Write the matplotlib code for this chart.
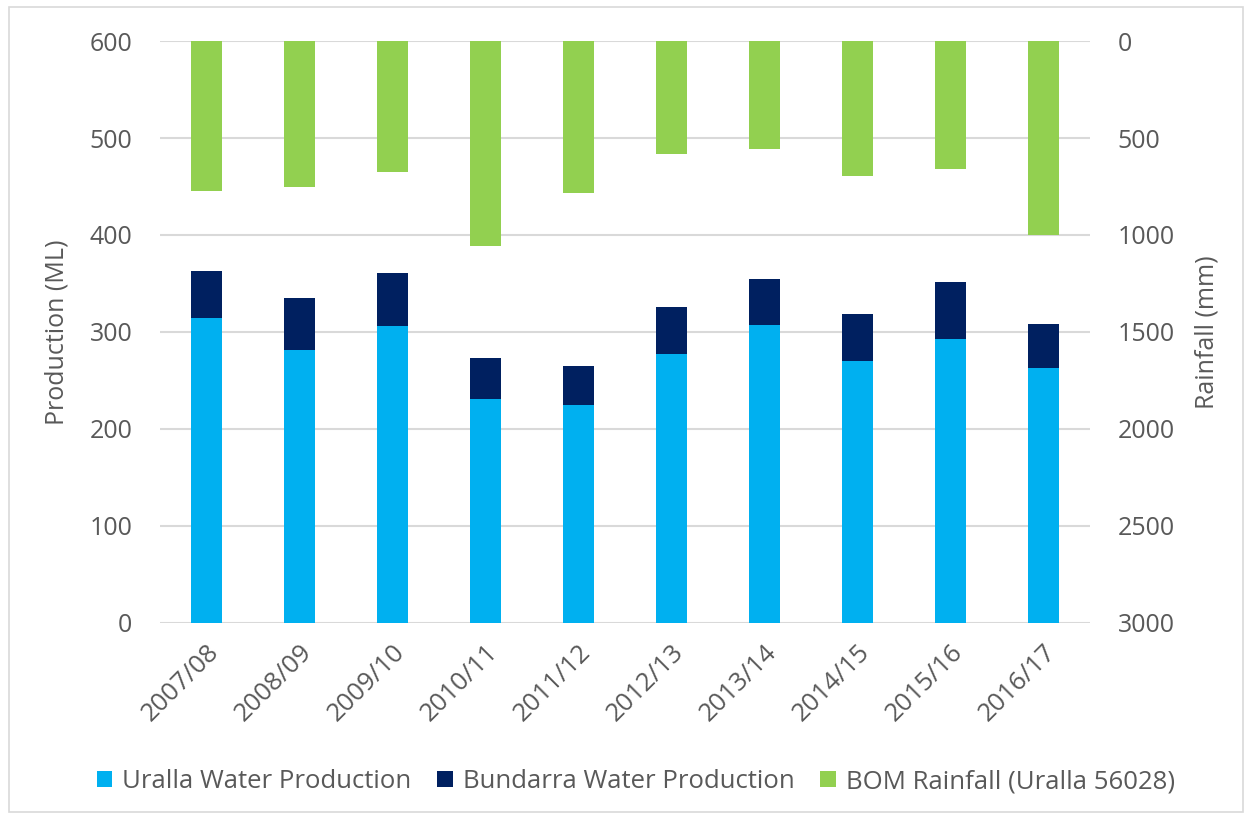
import matplotlib
matplotlib.use("Agg")
import numpy as np
from matplotlib import pyplot as plt
from matplotlib.patches import Rectangle

# data
years = ['2007/08', '2008/09', '2009/10', '2010/11', '2011/12',
         '2012/13', '2013/14', '2014/15', '2015/16', '2016/17']
uralla = [314.5, 281.4, 305.9, 230.5, 224.6, 277.3, 307.2, 269.8, 292.8, 262.8]
bundarra = [48.2, 54.1, 55.1, 42.3, 40.3, 48.8, 47.2, 48.5, 58.5, 45.2]
rainfall = [774, 754, 675, 1055, 783, 585, 558, 696, 661, 1000]

text_col = '#595959'
plt.rcParams['font.family'] = ['Open Sans', 'DejaVu Sans']

fig = plt.figure(figsize=(12.52, 8.17), dpi=100)
ax = fig.add_axes([0.1278, 0.2375, 0.7428, 0.7123])
x = np.arange(len(years))
w = 0.33

b1 = ax.bar(x, uralla, w, color='#00B0F0', label='Uralla Water Production', zorder=3)
b2 = ax.bar(x, bundarra, w, bottom=uralla, color='#002060',
            label='Bundarra Water Production', zorder=3)
ax.set_ylim(0, 600)
ax.set_yticks(range(0, 601, 100))
ax.set_xlim(-0.5, len(years) - 0.5)
ax.set_xticks(x)
ax.set_xticklabels(years, rotation=45, ha='right', rotation_mode='anchor')
ax.yaxis.grid(True, color='#D9D9D9', linewidth=1.5, zorder=0)
ax.set_axisbelow(True)
ax.set_ylabel('Production (ML)', color=text_col, fontsize=18, labelpad=14)

ax2 = ax.twinx()
b3 = ax2.bar(x, rainfall, w, color='#92D050', label='BOM Rainfall (Uralla 56028)', zorder=3)
ax2.set_ylim(3000, 0)
ax2.set_yticks(range(0, 3001, 500))
ax2.set_ylabel('Rainfall (mm)', color=text_col, fontsize=18, labelpad=14)

for a in (ax, ax2):
    for s in a.spines.values():
        s.set_visible(False)
    a.tick_params(axis='y', length=0, labelsize=18, colors=text_col, pad=20)
ax.tick_params(axis='x', length=0, labelsize=18.5, colors=text_col, pad=12)

fig.legend(handles=[b1, b2, b3], loc='center', bbox_to_anchor=(0.508, 0.043),
           ncol=3, frameon=False, fontsize=18.5, labelcolor=text_col,
           handlelength=0.6, handleheight=0.6, handletextpad=0.4, columnspacing=1.0)

fig.patches.append(Rectangle((0.007, 0.006), 0.986, 0.985, transform=fig.transFigure,
                             fill=False, edgecolor='#D9D9D9', linewidth=1.2))

plt.savefig('out.png', dpi=100)
